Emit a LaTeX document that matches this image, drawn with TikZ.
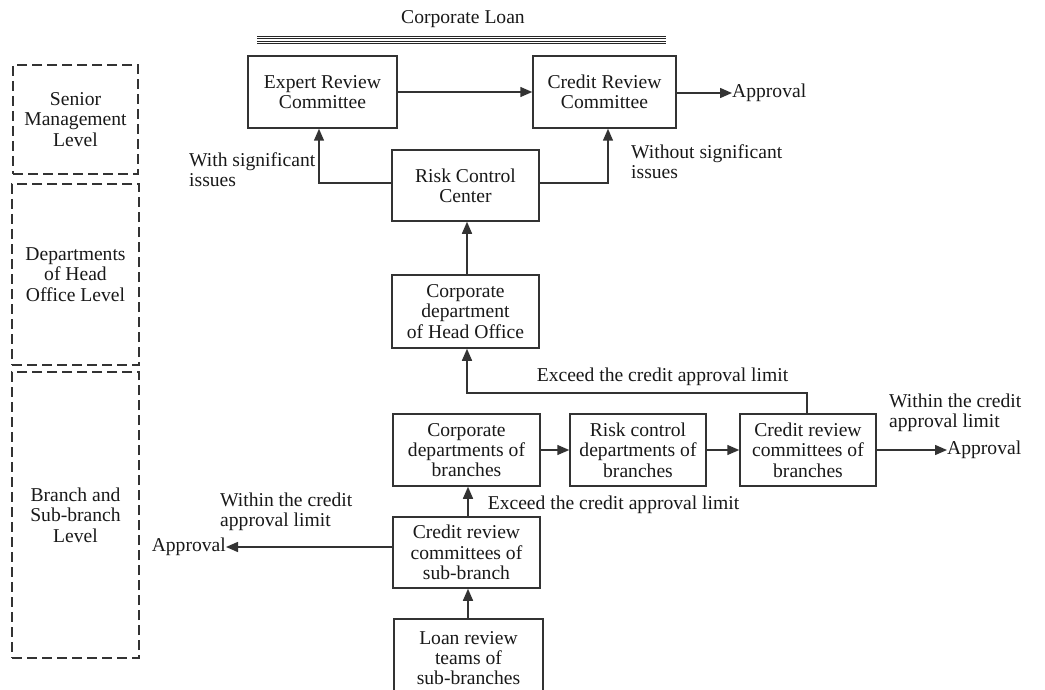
\documentclass[tikz,border=0pt]{standalone}
\usepackage{fontspec}
\setmainfont{Liberation Serif}
\usetikzlibrary{arrows.meta}
\begin{document}
\begin{tikzpicture}[x=1pt,y=-1pt,
  every node/.style={font=\fontsize{19.6}{20.3}\selectfont, inner sep=0pt, text=black!90},
  box/.style={draw=black!80, line width=1.5pt, align=center},
  level/.style={draw=black!80, line width=1.4pt, dash pattern=on 10pt off 5pt, align=center},
  lbl/.style={align=left, anchor=west},
  arr/.style={draw=black!80, line width=1.5pt, -{Triangle[length=12pt,width=10pt]}}]
\useasboundingbox (0,0) rectangle (1045,690);
\clip (0,0) rectangle (1045,690);
\fill[white] (0,0) rectangle (1045,690);

% title with stacked rules
\node (title) at (463,19) {Corporate Loan};
\foreach \yy in {36.6,38.9,41.2,43.3}
  \draw[black!85, line width=1pt] (257,\yy) -- (666,\yy);

% level bands
\node[level, minimum width=125pt, minimum height=109pt] (senior) at (75.5,119.5) {Senior\\Management\\Level};
\node[level, minimum width=127pt, minimum height=181pt] (headlvl) at (75.5,274.5) {Departments\\of Head\\Office Level};
\node[level, minimum width=127pt, minimum height=286pt] (branchlvl) at (75.5,515) {Branch and\\Sub-branch\\Level};

% process boxes
\node[box, minimum width=149pt, minimum height=72pt] (expert) at (322.5,92) {Expert Review\\Committee};
\node[box, minimum width=143pt, minimum height=72pt] (credit) at (604.5,92) {Credit Review\\Committee};
\node[box, minimum width=147pt, minimum height=71pt] (risk) at (465.5,185.5) {Risk Control\\Center};
\node[box, minimum width=147pt, minimum height=73pt] (hodept) at (465.5,311.5) {Corporate\\department\\of Head Office};
\node[box, minimum width=147pt, minimum height=72pt] (corpbr) at (466.5,450) {Corporate\\departments of\\branches};
\node[box, minimum width=136pt, minimum height=72pt] (riskbr) at (638,450) {Risk control\\departments of\\branches};
\node[box, minimum width=136pt, minimum height=72pt] (credbr) at (808,450) {Credit review\\committees of\\branches};
\node[box, minimum width=147pt, minimum height=71pt] (credsub) at (466.5,552.5) {Credit review\\committees of\\sub-branch};
\node[box, minimum width=149pt, minimum height=78pt] (loan) at (468.5,658) {Loan review\\teams of\\sub-branches};

% outcome labels
\node[anchor=west] (appr1) at (732,93) {Approval};
\node[anchor=west] (appr2) at (947,450) {Approval};
\node[anchor=east] (appr3) at (226,547) {Approval};
\node[lbl] (lsig) at (189,170) {With significant\\issues};
\node[lbl] (lnosig) at (631,162) {Without significant\\issues};
\node (lexc1) at (662.5,377) {Exceed the credit approval limit};
\node (lexc2) at (613.5,505) {Exceed the credit approval limit};
\node[lbl] (lwith1) at (889,413) {Within the credit\\approval limit};
\node[lbl] (lwith2) at (220,512) {Within the credit\\approval limit};

% turning points
\coordinate (ksig) at (319,183);
\coordinate (knosig) at (608,183);
\coordinate (kexcA) at (807,393);
\coordinate (kexcB) at (467,393);

% connectors
\draw[arr] (expert.east) -- (credit.west);
\draw[arr] (credit.east |- appr1) -- (appr1.west);
\draw[arr] (risk.west |- ksig) -- (ksig) -- (expert.south -| ksig);
\draw[arr] (risk.east |- knosig) -- (knosig) -- (credit.south -| knosig);
\draw[arr] (hodept.north -| 467,0) -- (risk.south -| 467,0);
\draw[arr] (credbr.north -| kexcA) -- (kexcA) -- (kexcB) -- (hodept.south -| kexcB);
\draw[arr] (corpbr.east) -- (riskbr.west);
\draw[arr] (riskbr.east) -- (credbr.west);
\draw[arr] (credbr.east) -- (appr2.west);
\draw[arr] (credsub.north -| 468,0) -- (corpbr.south -| 468,0);
\draw[arr] (credsub.west |- appr3) -- (appr3.east);
\draw[arr] (loan.north -| 468,0) -- (credsub.south -| 468,0);
\end{tikzpicture}
\end{document}
